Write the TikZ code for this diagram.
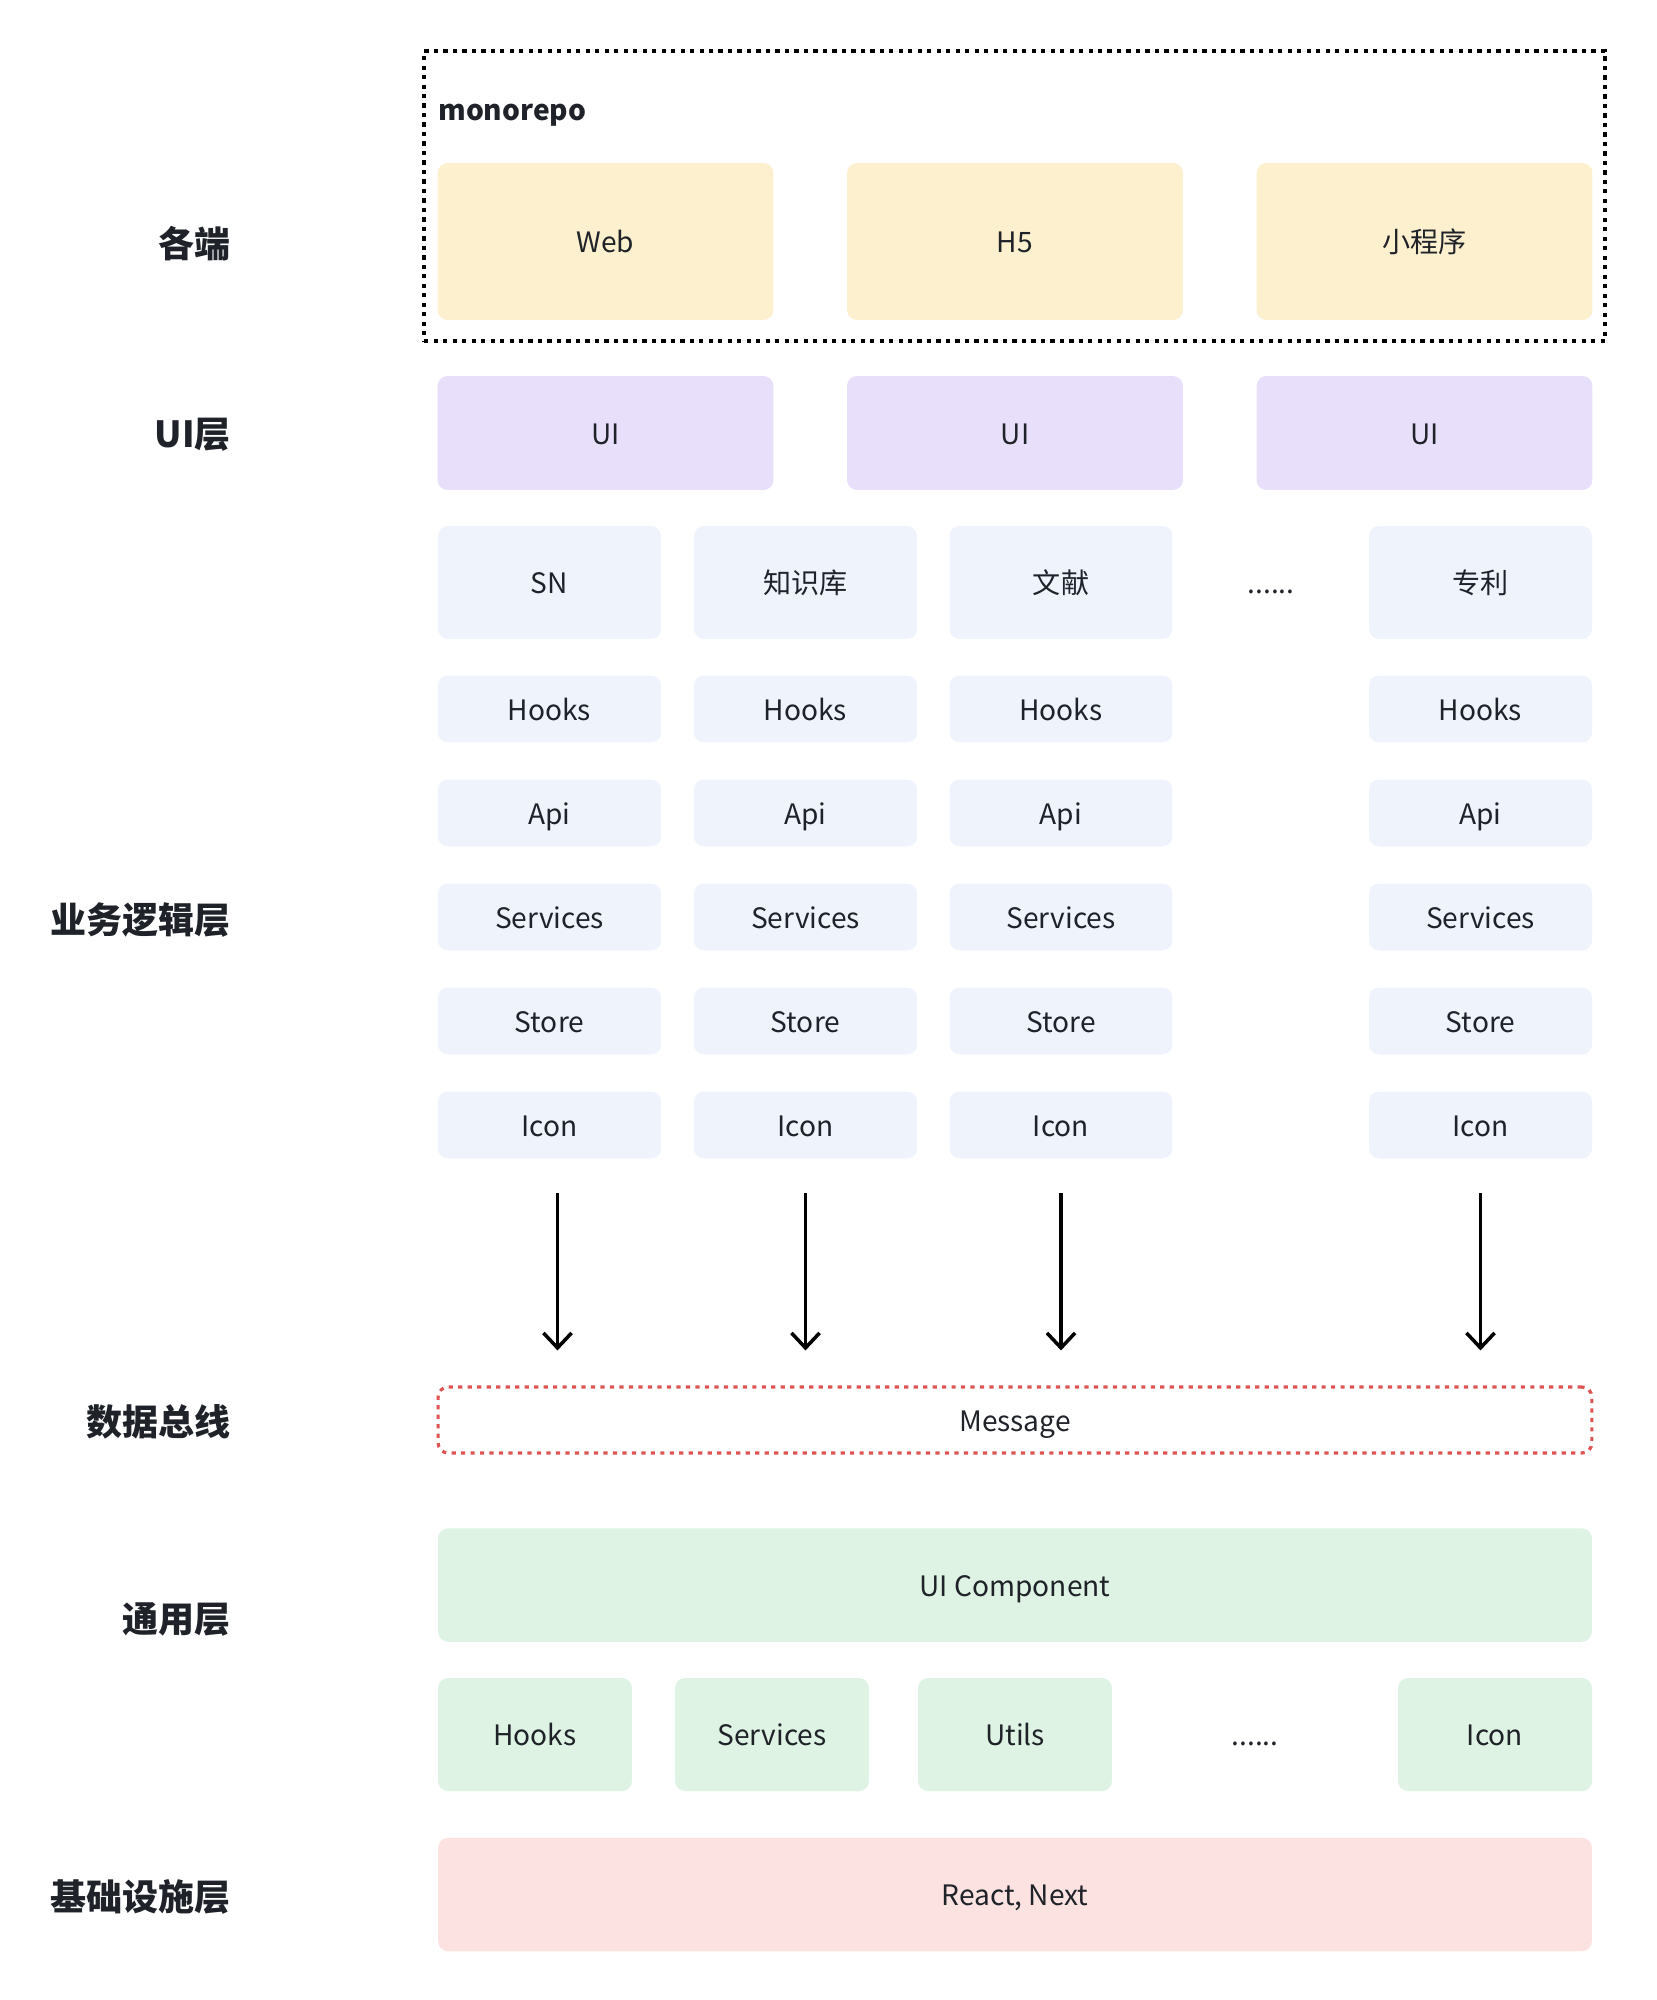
\documentclass[tikz,border=0pt]{standalone}
\usepackage{fontspec}
\setmainfont{Noto Sans CJK SC}
\usetikzlibrary{arrows.meta,%
	calc}

\definecolor{inkDark}{HTML}{1F2329}
\definecolor{clientYellow}{HTML}{FDF0CF}
\definecolor{uiPurple}{HTML}{E8E0FB}
\definecolor{bizBlue}{HTML}{EFF3FC}
\definecolor{commonGreen}{HTML}{DEF3E3}
\definecolor{basePink}{HTML}{FDE2E2}
\definecolor{busRed}{HTML}{DE5452}

\begin{document}
\begin{tikzpicture}[x=0.02cm, y=-0.02cm]

		\useasboundingbox (0,0) rectangle (1656,2000);

		\tikzset{BoxStyle/.style =
				{shape=rectangle, rounded corners=0.2cm, inner sep=0pt, text=inkDark,
				 font=\fontsize{16}{19}\selectfont, text height=16pt, text depth=3.2pt}
		}
		\tikzset{LayerStyle/.style =
				{anchor=east, inner sep=0pt, text=inkDark, font=\fontsize{20.5}{24}\selectfont\bfseries}
		}
		\tikzset{ClientBox/.style = {BoxStyle, fill=clientYellow, minimum width=6.72cm, minimum height=3.14cm}}
		\tikzset{UiBox/.style = {BoxStyle, fill=uiPurple, minimum width=6.72cm, minimum height=2.28cm}}
		\tikzset{BizHead/.style = {BoxStyle, fill=bizBlue, minimum width=4.46cm, minimum height=2.26cm}}
		\tikzset{BizBox/.style = {BoxStyle, fill=bizBlue, minimum width=4.46cm, minimum height=1.34cm}}
		\tikzset{CommonBox/.style = {BoxStyle, fill=commonGreen, minimum width=3.88cm, minimum height=2.26cm}}
		\tikzset{WideBox/.style = {BoxStyle, minimum width=23.08cm, minimum height=2.27cm}}
		\tikzset{MoreStyle/.style = {BoxStyle}}

		%layers
		\node[LayerStyle] (clients) at (231,244) {各端};
		\node[LayerStyle] (uiLayer) at (231,435) {UI层};
		\node[LayerStyle] (bizLayer) at (231,920) {业务逻辑层};
		\node[LayerStyle] (busLayer) at (231,1422) {数据总线};
		\node[LayerStyle] (commonLayer) at (231,1619) {通用层};
		\node[LayerStyle] (baseLayer) at (231,1897) {基础设施层};

		%monorepo
		\node[draw=black, line width=2pt, dash pattern=on 2.4pt off 3pt,
			minimum width=23.62cm, minimum height=5.8cm] (repo) at (1014.5,196) {};
		\node[anchor=west, inner sep=0pt, text=inkDark, font=\fontsize{16}{19}\selectfont\bfseries]
			(repoTitle) at (438,115) {monorepo};

		\node[ClientBox] (web) at (605.5,241.5) {Web};
		\node[ClientBox] (h5) at (1015,241.5) {H5};
		\node[ClientBox] (mini) at (1424.5,241.5) {小程序};

		%ui
		\node[UiBox] (ui1) at (605.5,433) {UI};
		\node[UiBox] (ui2) at (1015,433) {UI};
		\node[UiBox] (ui3) at (1424.5,433) {UI};

		%business
		\node[BizHead] (sn) at (549.5,582.5) {SN};
		\node[BizHead] (kb) at (805.5,582.5) {知识库};
		\node[BizHead] (doc) at (1061,582.5) {文献};
		\node[MoreStyle] (moreBiz) at (1271,582.5) {......};
		\node[BizHead] (patent) at (1480.5,582.5) {专利};

		\node[BizBox] (hooks1) at (549.5,709) {Hooks};
		\node[BizBox] (hooks2) at (805.5,709) {Hooks};
		\node[BizBox] (hooks3) at (1061,709) {Hooks};
		\node[BizBox] (hooks4) at (1480.5,709) {Hooks};

		\node[BizBox] (api1) at (549.5,813) {Api};
		\node[BizBox] (api2) at (805.5,813) {Api};
		\node[BizBox] (api3) at (1061,813) {Api};
		\node[BizBox] (api4) at (1480.5,813) {Api};

		\node[BizBox] (svc1) at (549.5,917) {Services};
		\node[BizBox] (svc2) at (805.5,917) {Services};
		\node[BizBox] (svc3) at (1061,917) {Services};
		\node[BizBox] (svc4) at (1480.5,917) {Services};

		\node[BizBox] (store1) at (549.5,1021) {Store};
		\node[BizBox] (store2) at (805.5,1021) {Store};
		\node[BizBox] (store3) at (1061,1021) {Store};
		\node[BizBox] (store4) at (1480.5,1021) {Store};

		\node[BizBox] (icon1) at (549.5,1125) {Icon};
		\node[BizBox] (icon2) at (805.5,1125) {Icon};
		\node[BizBox] (icon3) at (1061,1125) {Icon};
		\node[BizBox] (icon4) at (1480.5,1125) {Icon};

		%bus
		\node[WideBox, minimum height=1.32cm, draw=busRed, line width=1.8pt,
			dash pattern=on 2.4pt off 3pt] (bus) at (1015,1420) {Message};

		\tikzset{FlowStyle/.style =
				{-{Straight Barb[length=8.5pt, width=16pt]}, line width=2pt, color=black,
				 shorten <=0.68cm, shorten >=0.7cm}
		}
		\coordinate (drop1) at ([xshift=0.16cm]icon1.south);
		\draw[FlowStyle] (drop1) -- (drop1 |- bus.north);
		\draw[FlowStyle] (icon2.south) -- (icon2.south |- bus.north);
		\draw[FlowStyle] (icon3.south) -- (icon3.south |- bus.north);
		\draw[FlowStyle] (icon4.south) -- (icon4.south |- bus.north);

		%common
		\node[WideBox, fill=commonGreen] (uiComp) at (1015,1585) {UI Component};
		\node[CommonBox] (cHooks) at (535,1734.5) {Hooks};
		\node[CommonBox] (cSvc) at (772,1734.5) {Services};
		\node[CommonBox] (cUtils) at (1015,1734.5) {Utils};
		\node[MoreStyle] (moreCommon) at (1255,1734.5) {......};
		\node[CommonBox] (cIcon) at (1495,1734.5) {Icon};

		%base
		\node[WideBox, fill=basePink] (react) at (1015,1894.5) {React, Next};
	\end{tikzpicture}
\end{document}
